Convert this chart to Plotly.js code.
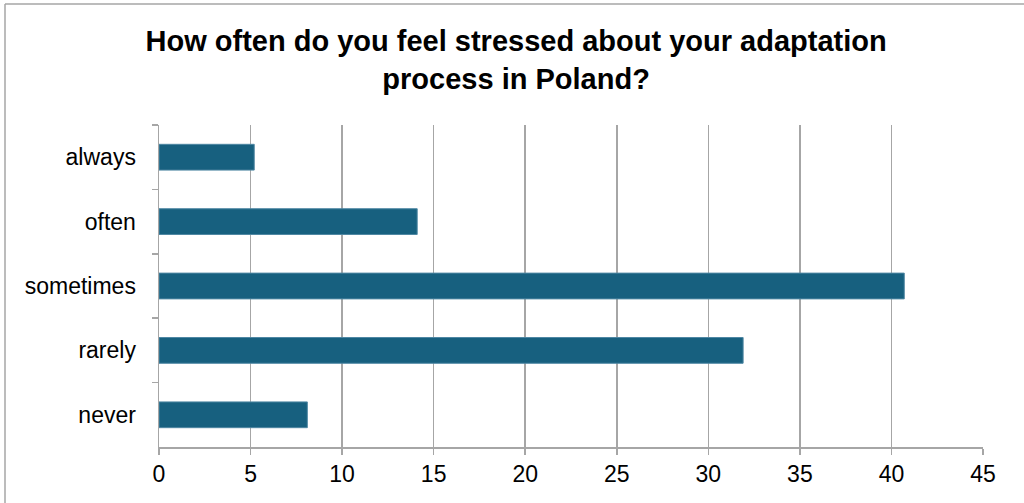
<!DOCTYPE html>
<html>
<head>
<meta charset="utf-8">
<script src="https://cdn.plot.ly/plotly-3.0.1.min.js"></script>
<style>html,body{margin:0;padding:0;background:#fff;}#chart{width:1024px;height:503px;}</style>
</head>
<body>
<div id="chart"></div>
<script>
const categories = ["always", "often", "sometimes", "rarely", "never"];
const values = [5.2, 14.1, 40.7, 31.9, 8.1];
const xTicks = [0, 5, 10, 15, 20, 25, 30, 35, 40, 45];
const titleText = "How often do you feel stressed about your adaptation<br>process in Poland?";

const W = 1024, H = 503;
const m = {l: 159, r: 41, t: 125, b: 56};
const pw = W - m.l - m.r, ph = H - m.t - m.b;
const px2x = p => (p - m.l) / pw;
const py2y = p => 1 - (p - m.t) / ph;

const trace = {
  type: "bar",
  orientation: "h",
  y: categories,
  x: values,
  width: 0.4,
  marker: {color: "#17607f", line: {color: "#4f87a3", width: 1}},
  hoverinfo: "x+y"
};

const layout = {
  width: W, height: H,
  margin: m,
  paper_bgcolor: "#ffffff",
  plot_bgcolor: "#ffffff",
  showlegend: false,
  font: {family: "Liberation Sans, Arial, sans-serif", size: 23, color: "#000"},
  title: {
    text: titleText,
    font: {family: "Liberation Sans, Arial, sans-serif", size: 29, color: "#000", weight: "bold"},
    xref: "container", x: 0.504, xanchor: "center",
    yref: "container", y: 1 - 51 / H, yanchor: "middle"
  },
  xaxis: {
    range: [0, 45],
    tickvals: xTicks,
    ticktext: xTicks.map(String),
    showgrid: true, gridcolor: "#a6a6a6", gridwidth: 1.5,
    zeroline: false,
    showline: true, linecolor: "#a6a6a6", linewidth: 1.5,
    ticks: "outside", ticklen: 6, tickcolor: "#a6a6a6", tickwidth: 1.5,
    tickfont: {size: 23, color: "#000"},
    fixedrange: true
  },
  yaxis: {
    type: "category",
    categoryorder: "array",
    categoryarray: categories,
    autorange: "reversed",
    showgrid: false,
    showline: true, linecolor: "#a6a6a6", linewidth: 1.5,
    ticks: "outside", tickson: "boundaries", ticklen: 6, tickcolor: "#a6a6a6", tickwidth: 1.5,
    ticklabelstandoff: 17,
    tickfont: {size: 23, color: "#000"},
    fixedrange: true
  },
  shapes: [
    {type: "line", xref: "paper", yref: "paper", x0: px2x(5), x1: px2x(1030), y0: py2y(4), y1: py2y(4), line: {color: "#a6a6a6", width: 1.5}},
    {type: "line", xref: "paper", yref: "paper", x0: px2x(5), x1: px2x(5), y0: py2y(4), y1: py2y(510), line: {color: "#a6a6a6", width: 1.5}}
  ]
};

Plotly.newPlot("chart", [trace], layout, {displayModeBar: false, staticPlot: true});
</script>
</body>
</html>
